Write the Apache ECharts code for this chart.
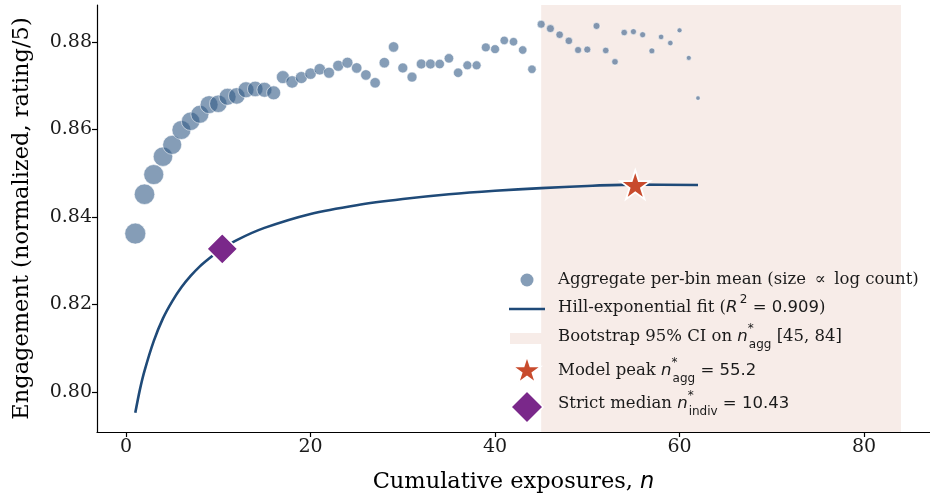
<!DOCTYPE html>
<html>
<head>
<meta charset="utf-8">
<script src="https://cdn.jsdelivr.net/npm/echarts@6/dist/echarts.min.js"></script>
<style>
  html, body { margin: 0; padding: 0; background: #fff; }
  #chart { width: 930px; height: 499px; }
</style>
</head>
<body>
<div id="chart"></div>
<script>
// per-bin aggregate means
const binN = [1, 2, 3, 4, 5, 6, 7, 8, 9, 10, 11, 12, 13, 14, 15, 16, 17, 18, 19, 20,
  21, 22, 23, 24, 25, 26, 27, 28, 29, 30, 31, 32, 33, 34, 35, 36, 37, 38, 39, 40,
  41, 42, 43, 44, 45, 46, 47, 48, 49, 50, 51, 52, 53, 54, 55, 56, 57, 58, 59, 60, 61, 62];
const binMean = [0.8362, 0.8452, 0.8497, 0.8538, 0.8565, 0.8599, 0.8619, 0.8635, 0.8657, 0.8659,
  0.8675, 0.8677, 0.8691, 0.8693, 0.8691, 0.8684, 0.8720, 0.8709, 0.8719, 0.8728,
  0.8738, 0.8730, 0.8746, 0.8753, 0.8741, 0.8725, 0.8707, 0.8753, 0.8789, 0.8741,
  0.8720, 0.8750, 0.8750, 0.8750, 0.8763, 0.8730, 0.8747, 0.8747, 0.8788, 0.8784,
  0.8804, 0.8801, 0.8782, 0.8738, 0.8841, 0.8831, 0.8817, 0.8803, 0.8782, 0.8783,
  0.8837, 0.8781, 0.8755, 0.8822, 0.8824, 0.8817, 0.8780, 0.8812, 0.8798, 0.8827, 0.8764, 0.8672];
const binCount = [1000000, 720000, 520000, 370000, 270000, 260000, 190000, 140000, 135000, 100000,
  72000, 52000, 37000, 27000, 19000, 10000, 5200, 3700, 2700, 1900,
  1900, 1400, 1400, 1350, 1000, 1000, 980, 1000, 990, 720,
  720, 700, 700, 520, 520, 500, 370, 370, 360, 360,
  270, 270, 260, 260, 190, 190, 140, 140, 100, 100,
  98, 72, 72, 70, 52, 52, 50, 37, 37, 27, 27, 19];

// Hill-exponential fit
const fitN = [1, 1.5, 2, 3, 4, 5, 6, 7, 8, 9, 10, 12, 15, 20, 25, 30, 35, 40, 45, 50, 55, 62];
const fitY = [0.7952, 0.8005, 0.8048, 0.8116, 0.8168, 0.8207, 0.8239, 0.8265, 0.8287, 0.8305,
  0.8321, 0.8347, 0.8375, 0.8407, 0.8427, 0.8441, 0.8452, 0.8460, 0.8466, 0.8471, 0.8474, 0.8473];
const fitR2 = 0.909;

const ciRange = [45, 84];
const peakN = 55.2, peakY = 0.8474;
const indivN = 10.43, indivY = 0.8327;

const xTicks = [0, 20, 40, 60, 80];
const yTicks = [0.80, 0.82, 0.84, 0.86, 0.88];

const serif = 'DejaVu Serif';
const sans = 'DejaVu Sans';
// five point star on a 100x100 box
const starPts = [[50, 0], [61.23, 34.55], [97.55, 34.55], [68.16, 55.9], [79.39, 90.45],
  [50, 69.1], [20.61, 90.45], [31.84, 55.9], [2.45, 34.55], [38.77, 34.55]];
const starPath = 'path://M' + starPts.map(p => p.join(',')).join(' L') + ' Z';

const colors = {
  dot: 'rgba(52,92,135,0.6)',
  fit: '#1f4a78',
  band: '#f7ece8',
  star: '#c84b2d',
  diamond: '#7a288a'
};

const chart = echarts.init(document.getElementById('chart'));

// rich styles shared by the legend texts
const rich = {
  it: { fontFamily: sans, fontStyle: 'italic', fontSize: 16.5, lineHeight: 28, verticalAlign: 'middle' },
  m: { fontFamily: sans, fontSize: 16.5, lineHeight: 28, verticalAlign: 'middle' },
  sup: { fontFamily: sans, fontSize: 12, lineHeight: 14, verticalAlign: 'top' },
  star: { fontFamily: sans, fontSize: 12, lineHeight: 14, verticalAlign: 'top', width: 1 },
  sub: { fontFamily: sans, fontSize: 12, lineHeight: 13, verticalAlign: 'bottom' }
};

const legendRows = [
  { y: 280, text: 'Aggregate per-bin mean (size \u2009\u221d\u2009 log count)' },
  { y: 308, text: 'Hill-exponential fit ({it|R}{sup|\u20092}{m| = ' + fitR2.toFixed(3) + '})' },
  { y: 337, text: 'Bootstrap 95% CI on {it|n}{star|*}{sub|agg} [' + ciRange[0] + ', ' + ciRange[1] + ']' },
  { y: 371, text: 'Model peak {it|n}{star|*}{sub|agg}{m| = ' + peakN.toFixed(1) + '}' },
  { y: 404, text: 'Strict median {it|n}{star|*}{sub|indiv}{m| = ' + indivN.toFixed(2) + '}' }
];

// legend glyphs
const legendStar = starPts.map(p => [527 + (p[0] - 50) * 0.29, 371 + (p[1] - 50) * 0.29]);

const legendGraphics = [
  { type: 'circle', shape: { cx: 527, cy: 280, r: 6.5 }, style: { fill: colors.dot } },
  { type: 'line', shape: { x1: 509, y1: 309, x2: 545, y2: 309 }, style: { stroke: colors.fit, lineWidth: 2.5 } },
  { type: 'rect', shape: { x: 510, y: 333, width: 33, height: 11 }, style: { fill: colors.band } },
  { type: 'polygon', shape: { points: legendStar }, style: { fill: colors.star, stroke: '#fff', lineWidth: 1.5 } },
  { type: 'polygon', shape: { points: [[527, 391], [543, 407], [527, 423], [511, 407]] },
    style: { fill: colors.diamond, stroke: '#fff', lineWidth: 1.5 } }
].concat(legendRows.map(r => ({
  type: 'text',
  x: 558, y: r.y,
  style: {
    text: r.text, fontFamily: serif, fontSize: 16.5, lineHeight: 28,
    fill: '#1a1a1a', verticalAlign: 'middle', align: 'left', rich: rich
  }
}))).map(g => Object.assign({ z: 100 }, g));

const option = {
  animation: false,
  backgroundColor: '#fff',
  grid: { left: 97, right: 0, top: 5, bottom: 67 },
  xAxis: {
    type: 'value',
    min: -3.15, max: 87.15,
    name: 'Cumulative exposures, {it|n}',
    nameLocation: 'middle',
    nameGap: 39,
    nameTextStyle: {
      fontFamily: serif, fontSize: 22.5, color: '#000',
      rich: { it: { fontFamily: sans, fontStyle: 'italic', fontSize: 22.5, color: '#000' } }
    },
    axisLine: { onZero: false, lineStyle: { color: '#000', width: 1.2 } },
    axisTick: { customValues: xTicks, length: 5, lineStyle: { color: '#000', width: 1.2 } },
    axisLabel: { customValues: xTicks, fontFamily: serif, fontSize: 19, color: '#1a1a1a', margin: 6 },
    splitLine: { show: false }
  },
  yAxis: {
    type: 'value',
    min: 0.7908, max: 0.8885,
    name: 'Engagement (normalized, rating/5)',
    nameLocation: 'middle',
    nameGap: 63,
    nameTextStyle: { fontFamily: serif, fontSize: 22.5, color: '#000' },
    axisLine: { show: true, onZero: false, lineStyle: { color: '#000', width: 1.2 } },
    axisTick: { show: true, customValues: yTicks, length: 5, lineStyle: { color: '#000', width: 1.2 } },
    axisLabel: {
      customValues: yTicks, fontFamily: serif, fontSize: 19, color: '#1a1a1a', margin: 5,
      formatter: v => v.toFixed(2)
    },
    splitLine: { show: false }
  },
  series: [
    {
      name: 'ci',
      type: 'line',
      data: [],
      z: 1,
      silent: true,
      markArea: {
        silent: true,
        itemStyle: { color: colors.band, opacity: 1 },
        data: [[{ xAxis: ciRange[0] }, { xAxis: ciRange[1] }]]
      }
    },
    {
      name: 'agg',
      type: 'scatter',
      z: 2,
      data: binN.map((n, i) => [n, binMean[i]]),
      symbolSize: (v, p) => 3.5 * Math.log10(binCount[p.dataIndex]),
      itemStyle: { color: colors.dot, borderColor: 'rgba(255,255,255,0.8)', borderWidth: 0.7, opacity: 1 }
    },
    {
      name: 'fit',
      type: 'line',
      z: 3,
      data: fitN.map((n, i) => [n, fitY[i]]),
      smooth: 0.3,
      showSymbol: false,
      lineStyle: { color: colors.fit, width: 2.6 }
    },
    {
      name: 'indiv',
      type: 'scatter',
      z: 4,
      data: [[indivN, indivY]],
      symbol: 'diamond',
      symbolSize: 31,
      itemStyle: { color: colors.diamond, borderColor: '#fff', borderWidth: 1.5, opacity: 1 }
    },
    {
      name: 'peak',
      type: 'scatter',
      z: 5,
      data: [[peakN, peakY]],
      symbol: starPath,
      symbolSize: [30, 29],
      itemStyle: { color: colors.star, borderColor: '#fff', borderWidth: 1.8, opacity: 1 }
    }
  ],
  graphic: legendGraphics
};

chart.setOption(option);
</script>
</body>
</html>
